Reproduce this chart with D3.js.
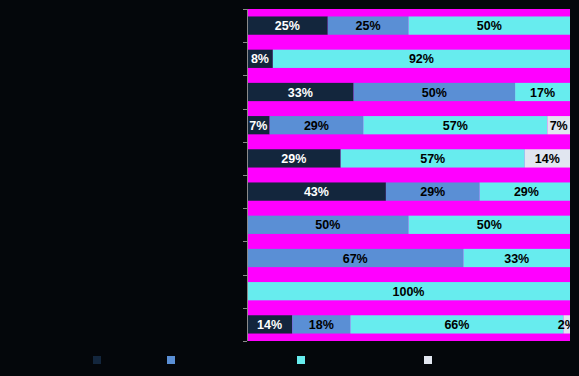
<!DOCTYPE html>
<html>
<head>
<meta charset="utf-8">
<script src="https://cdn.jsdelivr.net/npm/d3@7"></script>
<style>
  html, body { margin: 0; padding: 0; background: #04070b; }
  svg { display: block; }
</style>
</head>
<body>
<svg id="chart" width="579" height="376"></svg>
<script>
const categories = ["R1","R2","R3","R4","R5","R6","R7","R8","R9","R10"];
const seriesNames = ["S1","S2","S3","S4"];
const s1 = [25, 8, 33, 7, 29, 43, 0, 0, 0, 14];
const s2 = [25, 0, 50, 29, 0, 29, 50, 67, 0, 18];
const s3 = [50, 92, 17, 57, 57, 29, 50, 33, 100, 66];
const s4 = [0, 0, 0, 7, 14, 0, 0, 0, 0, 2];
const colors = ["#13263d", "#5a8fd5", "#67ecee", "#e1e6f0"];
const textColors = ["#ffffff", "#000000", "#000000", "#000000"];

const W = 579, H = 376;
const margin = {top: 9, right: 9, bottom: 35, left: 247};
const svg = d3.select("#chart");

const rows = categories.map((c, i) => ({cat: c, S1: s1[i], S2: s2[i], S3: s3[i], S4: s4[i]}));
const stack = d3.stack().keys(seriesNames)(rows);

const x = d3.scaleLinear().domain([0, 100]).range([margin.left, W - margin.right]);
const y = d3.scaleBand().domain(categories).range([margin.top, H - margin.bottom])
  .paddingInner(0.45).paddingOuter(0.225);

svg.append("defs").append("clipPath").attr("id", "clip")
  .append("rect").attr("x", margin.left).attr("y", margin.top)
  .attr("width", W - margin.left - margin.right).attr("height", H - margin.top - margin.bottom);

svg.append("rect").attr("x", margin.left).attr("y", margin.top)
  .attr("width", W - margin.left - margin.right).attr("height", H - margin.top - margin.bottom)
  .attr("fill", "#ff00ff");

const g = svg.append("g").attr("clip-path", "url(#clip)");
stack.forEach((layer, si) => {
  g.selectAll(null).data(layer.filter(d => d[1] - d[0] > 0)).enter().append("rect")
    .attr("x", d => x(d[0]))
    .attr("y", d => y(d.data.cat))
    .attr("width", d => x(d[1]) - x(d[0]))
    .attr("height", y.bandwidth())
    .attr("fill", colors[si]);
});
stack.forEach((layer, si) => {
  g.selectAll(null).data(layer.filter(d => d[1] - d[0] > 0)).enter().append("text")
    .attr("x", d => (x(d[0]) + x(d[1])) / 2)
    .attr("y", d => y(d.data.cat) + y.bandwidth() / 2)
    .attr("dy", "0.36em")
    .attr("text-anchor", "middle")
    .attr("font-family", "'Liberation Sans', Arial, sans-serif")
    .attr("font-weight", "bold")
    .attr("font-size", "12.5px")
    .attr("fill", textColors[si])
    .text(d => (d[1] - d[0]) + "%");
});

// axis: ticks at band boundaries
const bounds = categories.map(c => y(c) - y.step() * y.paddingInner() / 2);
bounds.push(H - margin.bottom);
const ax = svg.append("g");
ax.append("line").attr("x1", margin.left + 0.5).attr("x2", margin.left + 0.5)
  .attr("y1", margin.top).attr("y2", H - margin.bottom)
  .attr("stroke", "#8a8a8a").attr("stroke-width", 1);
ax.selectAll(null).data(bounds).enter().append("line")
  .attr("x1", margin.left - 4).attr("x2", margin.left)
  .attr("y1", d => Math.round(d) + 0.5).attr("y2", d => Math.round(d) + 0.5)
  .attr("stroke", "#8a8a8a").attr("stroke-width", 1);

// legend swatches
const legendX = [93, 167, 297, 424];
svg.selectAll(null).data(seriesNames).enter().append("rect")
  .attr("x", (d, i) => legendX[i]).attr("y", 356)
  .attr("width", 8).attr("height", 8)
  .attr("fill", (d, i) => colors[i]);
</script>
</body>
</html>
